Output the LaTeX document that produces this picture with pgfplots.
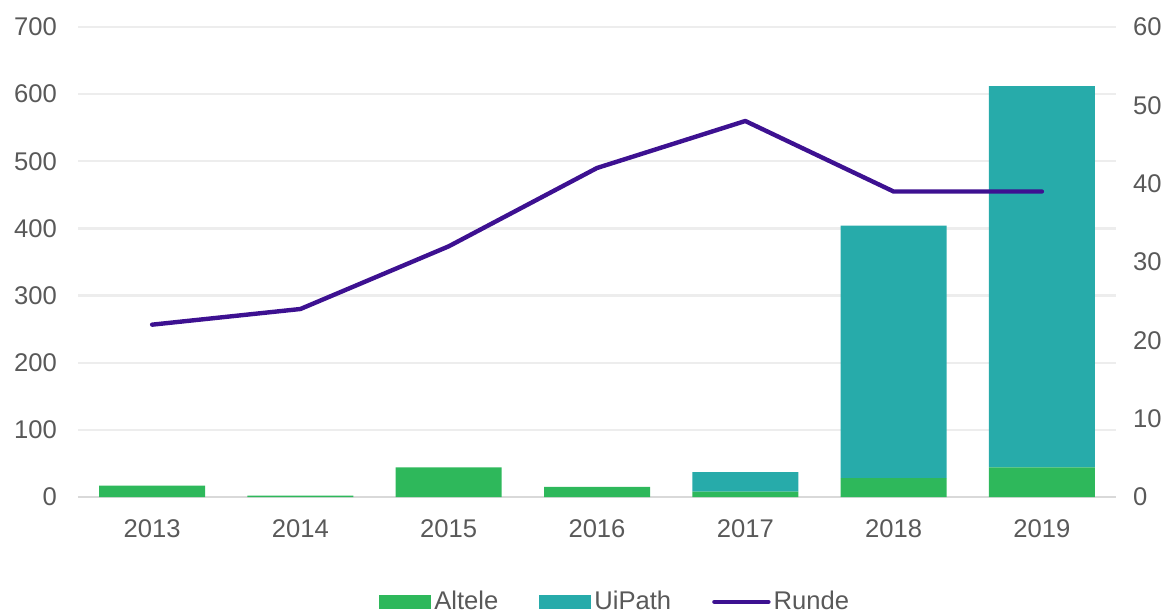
\documentclass[border=0pt]{standalone}
\usepackage{pgfplots}
\pgfplotsset{compat=1.18}
\usepackage{pgfplotstable}
\usepackage{fontspec}
\setmainfont{Liberation Sans}
\definecolor{cgreen}{HTML}{2EB85B}
\definecolor{cteal}{HTML}{27ABAA}
\definecolor{cline}{HTML}{3D1191}
\definecolor{ctext}{HTML}{595959}
\definecolor{cgrid}{HTML}{EDEDED}
\definecolor{caxis}{HTML}{D9D9D9}
\pgfplotstableread{
x Altele UiPath Runde
0 17 0 22
1 2 0 24
2 44 0 32
3 15 0 42
4 8 29 48
5 28 376 39
6 44 568 39
}\data
\begin{document}
\begin{tikzpicture}[font=\fontsize{12.8}{15}\selectfont]
\path[use as bounding box] (-39pt,-59pt) rectangle (546.5pt,248.5pt);
\pgfplotsset{common/.style={
  scale only axis, width=519pt, height=235pt,
  xmin=-0.5, xmax=6.5,
  tick style={draw=none}, major tick length=0pt,
  /pgf/number format/assume math mode=true,
  tick label style={text=ctext, font=\fontsize{12.8}{15}\selectfont},
}}
\begin{axis}[common,
  ybar stacked, bar width=53pt,
  ymin=0, ymax=700, ytick={0,100,...,700},
  xtick={0,...,6}, xticklabels={2013,2014,2015,2016,2017,2018,2019},
  xticklabel style={yshift=-8pt},
  yticklabel style={xshift=-7pt},
  ymajorgrids, grid style={cgrid, line width=1.1pt},
  axis x line*=bottom, axis y line*=left,
  x axis line style={caxis, line width=1pt, -},
  y axis line style={draw=none},
]
\addplot[fill=cgreen, draw=none] table[x=x, y=Altele]{\data};
\addplot[fill=cteal, draw=none] table[x=x, y=UiPath]{\data};
\end{axis}
\begin{axis}[common,
  ymin=0, ymax=60, ytick={0,10,...,60},
  axis x line=none, axis y line*=right,
  y axis line style={draw=none},
  yticklabel style={xshift=5pt},
  legend style={at={(0.518,-0.223)}, anchor=center, draw=none, fill=none,
    legend columns=3, text=ctext, font=\fontsize{12.8}{15}\selectfont,
    nodes={inner sep=1.5pt},
    /tikz/every even column/.append style={column sep=19pt}},
  legend cell align=left,
]
\addlegendimage{fill=cgreen, draw=none, legend image code/.code={\fill[cgreen] (0pt,-3.5pt) rectangle (26pt,3.5pt);}}
\addlegendentry{Altele}
\addlegendimage{fill=cteal, draw=none, legend image code/.code={\fill[cteal] (0pt,-3.5pt) rectangle (26pt,3.5pt);}}
\addlegendentry{UiPath}
\addplot[cline, line width=2.2pt, line join=round, line cap=round,
  legend image code/.code={\draw[cline, line width=2.2pt, line cap=round] (0pt,0pt) -- (27pt,0pt);}]
  table[x=x, y=Runde]{\data};
\addlegendentry{Runde}
\end{axis}
\end{tikzpicture}
\end{document}
